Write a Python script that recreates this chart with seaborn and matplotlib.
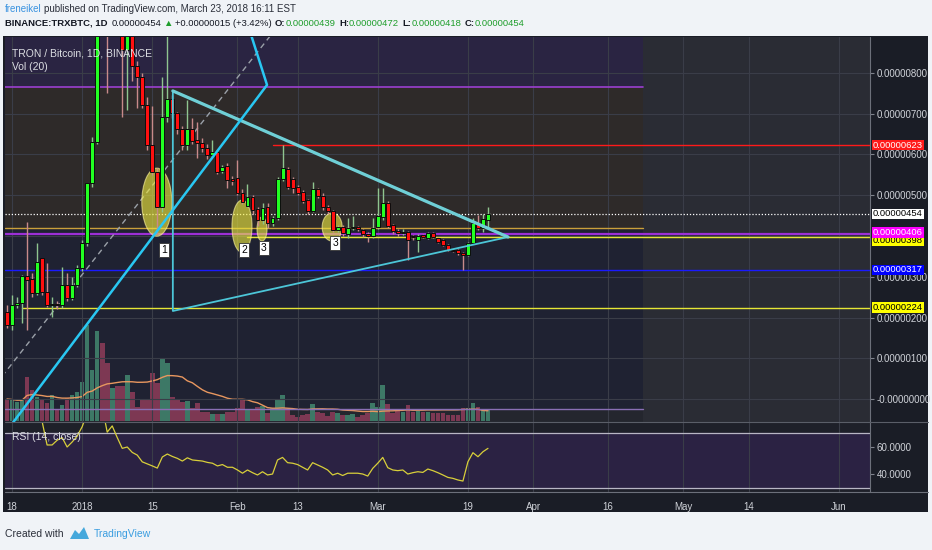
import numpy as np
import pandas as pd
import matplotlib
matplotlib.use("Agg")
import matplotlib.pyplot as plt
import seaborn as sns
from matplotlib.patches import Rectangle, Ellipse, Polygon
from matplotlib.transforms import blended_transform_factory

# ================================
# 1. Data  (prices in satoshi = 1e-8 BTC)
# ================================
opens = [214, 182, 231, 236, 302, 294, 259, 345, 263, 230, 233, 231, 280, 247, 280, 321, 382, 529, 631, 1400,
         1200, 1100, 1150, 1000, 856, 920, 817, 790, 721, 623, 557, 471, 692, 736, 702, 663, 623, 663, 636, 628,
         616, 599, 606, 560, 572, 540, 542, 506, 474, 496, 466, 439, 471, 432, 444, 540, 564, 540, 520, 508,
         488, 461, 515, 498, 471, 461, 415, 422, 405, 419, 422, 415, 405, 400, 422, 447, 481, 427, 412, 407,
         410, 399, 390, 402, 395, 407, 395, 390, 378, 366, 366, 358, 353, 383, 432, 420, 439]
highs = [230, 255, 251, 304, 435, 310, 382, 345, 333, 250, 240, 325, 308, 300, 330, 390, 531, 644, 1150, 1900,
         1300, 1250, 1200, 1050, 1000, 950, 830, 800, 740, 719, 567, 790, 906, 745, 705, 670, 734, 690, 680, 640,
         625, 636, 610, 575, 579, 548, 587, 515, 528, 500, 470, 480, 480, 450, 545, 623, 570, 545, 525, 512,
         492, 532, 518, 505, 476, 465, 426, 428, 445, 450, 425, 418, 410, 445, 518, 518, 485, 430, 418, 418,
         412, 402, 405, 406, 410, 410, 398, 392, 380, 368, 368, 360, 386, 445, 452, 455, 472]
lows = [175, 169, 223, 186, 169, 250, 255, 255, 227, 202, 222, 223, 240, 243, 275, 315, 375, 520, 625, 1000,
        751, 1000, 900, 692, 709, 780, 714, 715, 610, 550, 402, 460, 680, 690, 650, 610, 611, 625, 591, 605,
        590, 595, 553, 555, 518, 525, 500, 478, 470, 455, 425, 430, 420, 425, 440, 535, 515, 505, 500, 482,
        455, 458, 494, 465, 455, 410, 410, 400, 395, 415, 412, 398, 385, 396, 418, 440, 420, 405, 400, 402,
        341, 390, 361, 394, 392, 395, 382, 375, 362, 360, 354, 317, 350, 380, 415, 410, 418]
closes = [182, 231, 236, 302, 292, 259, 337, 263, 231, 233, 230, 280, 247, 280, 321, 382, 529, 631, 1100, 1200,
          1100, 1150, 1000, 856, 920, 817, 790, 721, 623, 557, 471, 692, 736, 702, 663, 623, 663, 632, 628, 616,
          599, 606, 557, 569, 537, 536, 506, 484, 496, 464, 439, 469, 432, 444, 540, 567, 520, 517, 505, 486,
          461, 515, 498, 471, 461, 415, 422, 407, 420, 421, 417, 405, 400, 420, 449, 481, 425, 412, 407, 410,
          390, 397, 400, 398, 407, 398, 385, 378, 366, 364, 358, 353, 383, 432, 420, 442, 454]
volume = [65, 62, 57, 62, 132, 92, 70, 62, 52, 76, 34, 47, 67, 77, 87, 117, 287, 152, 270, 232,
          172, 97, 105, 105, 137, 87, 40, 64, 64, 142, 112, 187, 172, 72, 62, 57, 59, 37, 52, 27,
          25, 20, 20, 20, 27, 27, 37, 62, 34, 34, 42, 44, 24, 37, 62, 77, 37, 17, 12, 17,
          20, 50, 27, 24, 14, 27, 22, 17, 17, 20, 12, 17, 22, 52, 42, 107, 50, 24, 30, 27,
          47, 27, 30, 27, 27, 24, 24, 22, 17, 17, 17, 37, 37, 54, 40, 34, 34]
rsi = [85, 85, 85, 84, 83, 82, 85, 79, 61.5, 61.5, 65, 67, 60, 63.7, 68, 75, 85, 88, 92, 90,
       71, 75.6, 67, 59, 60, 56, 54, 49, 47.5, 46, 44.4, 52.6, 54.8, 53, 51.6, 49.6, 52, 50.4, 50, 49.6,
       48.6, 48, 46, 47, 45, 45, 43, 40.6, 43, 41, 39.3, 41.7, 39.3, 40, 50.4, 52.3, 48.4, 48, 47, 45,
       43, 48.4, 46.7, 45, 43, 39.3, 40.6, 38.9, 40.6, 40.6, 40.6, 40, 38.5, 44.2, 48, 52.3, 44.7, 43, 42.5, 43,
       40, 41, 41.7, 41.2, 43.7, 42.5, 41, 39.3, 37.5, 36.8, 35.6, 34.8, 49.1, 55.8, 52.8, 56.5, 59]

start = pd.Timestamp("2017-12-17")
tick_dates = ["2017-12-18", "2018-01-01", "2018-01-15", "2018-02-01", "2018-02-13", "2018-03-01",
              "2018-03-19", "2018-04-01", "2018-04-16", "2018-05-01", "2018-05-14", "2018-06-01"]
tick_labels = ["18", "2018", "15", "Feb", "13", "Mar", "19", "Apr", "16", "May", "14", "Jun"]

# price tags on the right scale: (price, where the tag sits, box colour, text colour)
level_tags = [(623, 623, "#ff1a1a", "white"), (454, 454, "white", "black"),
              (398, 389, "#ffff00", "black"), (406, 409, "#ff00ff", "white"),
              (317, 317, "#0000ff", "white"), (224, 224, "#ffff00", "black")]

df = pd.DataFrame({"open": opens, "high": highs, "low": lows, "close": closes,
                   "volume": volume, "rsi": rsi})
df["day"] = np.arange(len(df))
df["vol_ma"] = df["volume"].rolling(20, min_periods=1).mean()
up = (df["close"] >= df["open"]).to_numpy()

tick_pos = [(pd.Timestamp(d) - start).days for d in tick_dates]
def day_of(s):
    return (pd.Timestamp(s) - start).days

# ================================
# 2. Figure layout (pixel based)
# ================================
W, H = 932, 550
sns.set_style("dark")
plt.rcParams["font.family"] = ["Liberation Sans", "DejaVu Sans"]

fig = plt.figure(figsize=(W / 100, H / 100), dpi=100)
fig.patch.set_facecolor("#f0f3f7")

def box(x0, y0, x1, y1):
    return [x0 / W, 1 - y1 / H, (x1 - x0) / W, (y1 - y0) / H]

fig.add_artist(Rectangle((3 / W, 1 - 512 / H), 925 / W, 476 / H, transform=fig.transFigure,
                         fc="#1a1d26", ec="none", zorder=0))

ax = fig.add_axes(box(5, 37, 870, 422))
axv = ax.twinx()
axr = fig.add_axes(box(5, 422, 870, 492), sharex=ax)

XL = (-0.4, 172.25)
ax.set_xlim(*XL)
ax.set_ylim(-56.4, 888.3)
axv.set_ylim(-4, 1151)
axr.set_ylim(26.7, 78.5)

axr.set_facecolor("#1e2029")
for a in (ax, axv, axr):
    for s in a.spines.values():
        s.set_visible(False)
axv.set_yticks([])
ax.set_zorder(axv.get_zorder() + 1)
ax.patch.set_visible(False)

# background zones (drawn rectangles)
cut = day_of("2018-04-23")
axv.add_patch(Rectangle((cut, -60), XL[1] - cut, 960, transform=ax.transData,
                        fc="#2a2c34", ec="none", zorder=0))
axv.add_patch(Rectangle((XL[0], -60), cut - XL[0], 40, transform=ax.transData,
                        fc="#24262e", ec="none", zorder=0))
axv.add_patch(Rectangle((XL[0], 765), cut - XL[0], 200, transform=ax.transData,
                        fc="#2a2442", ec="none", zorder=0))
axv.add_patch(Rectangle((XL[0], 420), cut - XL[0], 345, transform=ax.transData,
                        fc="#2e2a29", ec="none", zorder=0))
axv.add_patch(Rectangle((XL[0], -24.5), cut - XL[0], 444.5, transform=ax.transData,
                        fc="#1f2232", ec="none", zorder=0))

# grid
for t in tick_pos:
    ax.axvline(t, color="#3a3d48", lw=0.8, zorder=0.5)
    axr.axvline(t, color="#3a3d48", lw=0.8, zorder=0.5)
for p in range(0, 900, 100):
    ax.axhline(p, color="#3a3d48", lw=0.8, zorder=0.5)

# ================================
# 3. Volume + MA
# ================================
vcol = np.where(up, "#3d7866", "#7d3853")
axv.bar(df["day"], df["volume"], width=0.92, color=vcol, edgecolor="none", lw=0, zorder=1)
sns.lineplot(x=df["day"], y=df["vol_ma"], ax=axv, color="#e8975f", lw=1.0, zorder=2)
axv.set_xlabel("")
axv.set_ylabel("")

# ================================
# 4. Drawings under candles
# ================================
ax.plot([XL[0], cut], [765, 765], color="#9b3fd0", lw=1.2, zorder=2)
ax.plot([XL[0], cut], [420, 420], color="#caa03a", lw=1.0, zorder=2)
ax.plot([XL[0], cut], [-24.5, -24.5], color="#8a6fb5", lw=1.0, zorder=2)
ax.plot([53, XL[1]], [623, 623], color="#ff1a1a", lw=1.0, zorder=2)
ax.plot([XL[0], XL[1]], [406, 406], color="#9c2fd6", lw=1.6, zorder=2)
ax.plot([48, XL[1]], [398, 398], color="#e6e635", lw=1.0, zorder=2)
ax.plot([XL[0], XL[1]], [317, 317], color="#1a1aff", lw=1.0, zorder=2)
ax.plot([3, XL[1]], [224, 224], color="#e6e635", lw=1.0, zorder=2)
ax.plot([XL[0], XL[1]], [454, 454], color="white", lw=0.9, ls=(0, (1, 1.5)), zorder=2)

# dashed trend line
ax.plot([-1, 56], [55.6, 945], color="#9aa0a8", lw=1.0, ls=(0, (4, 3)), zorder=2)

# ellipses
for cx, cy, w, h in [(29.9, 483, 6.0, 167), (46.9, 424, 4.0, 128), (50.9, 417, 2.0, 59), (64.9, 422, 4.0, 69)]:
    ax.add_patch(Ellipse((cx, cy), w, h, fc="#eeea40", ec="#fff7a0", lw=0.8, alpha=0.62, zorder=2.5))

# ================================
# 5. Candles
# ================================
wick_col = np.where(up, "#8fc58f", "#c88a8a")
ax.vlines(df["day"], df["low"], df["high"], colors=wick_col, lw=1.0, zorder=3)
body_lo = np.minimum(df["open"], df["close"])
body_h = np.maximum(np.abs(df["close"] - df["open"]), 2.5)
ax.bar(df["day"], body_h, bottom=body_lo, width=0.78, color=np.where(up, "#22ff22", "#ff1010"),
       edgecolor="#0d0d0d", lw=0.7, zorder=4)

# triangle + channel lines
apex = day_of("2018-03-27")
ax.plot([33.1, 33.1, apex, 33.1], [756, 216, 397.5, 756], color="#4cc6d8", lw=1.3, zorder=5)
ax.plot([33.1, apex], [756, 397.5], color="#6fcfd6", lw=2.3, zorder=5)
ax.plot([1, 51.9, 46.5], [-61, 770.6, 979], color="#29c7f2", lw=1.8, zorder=5)

for tx, ty, s in [(31.3, 366, "1"), (47.3, 366, "2"), (51.3, 371, "3"), (65.5, 383, "3")]:
    ax.text(tx, ty, s, ha="center", va="center", fontsize=7.5, color="black", zorder=6,
            bbox=dict(boxstyle="square,pad=0.18", fc="white", ec="#333333", lw=0.6))

# ================================
# 6. RSI pane
# ================================
axr.axhspan(30, 70, color="#2b2243", zorder=0.2)
axr.axhline(70, color="#b8b6c4", lw=0.9, zorder=1)
axr.axhline(30, color="#b8b6c4", lw=0.9, zorder=1)
sns.lineplot(x=df["day"], y=df["rsi"], ax=axr, color="#d8cf3a", lw=0.9, zorder=3)
axr.set_xlabel("")
axr.set_ylabel("")

# ================================
# 7. Axes labels
# ================================
price_ticks = [0, 100, 200, 300, 500, 600, 700, 800]
ax.yaxis.tick_right()
ax.set_yticks(price_ticks)
ax.set_yticklabels(["-0.00000000" if p == 0 else f"{p / 1e8:.8f}" for p in price_ticks],
                   color="#cfd2d8", fontsize=7)
ax.tick_params(axis="x", length=0, labelbottom=False)
ax.tick_params(axis="y", length=3, color="#80848e", pad=2)
axr.yaxis.tick_right()
axr.set_yticks([40, 60])
axr.set_yticklabels(["40.0000", "60.0000"], color="#cfd2d8", fontsize=7)
axr.tick_params(axis="y", length=3, color="#80848e", pad=2)
axr.set_xticks(tick_pos)
axr.set_xticklabels(tick_labels, color="#cfd2d8", fontsize=7)
axr.tick_params(axis="x", length=0, pad=7)

tr = blended_transform_factory(ax.transAxes, ax.transData)
for k, (p, pos, fc, tc) in enumerate(level_tags):
    ax.text(1.0035, pos, f"{p / 1e8:.8f}", transform=tr, ha="left", va="center", fontsize=6.8,
            color=tc, zorder=10 + k, clip_on=False,
            bbox=dict(boxstyle="square,pad=0.08", fc=fc, ec="none"))

# pane separators
fig.add_artist(plt.Line2D([870 / W, 870 / W], [1 - 492 / H, 1 - 37 / H], color="#6c707a", lw=0.8))
fig.add_artist(plt.Line2D([5 / W, 928 / W], [1 - 492 / H, 1 - 492 / H], color="#6c707a", lw=0.8))
fig.add_artist(plt.Line2D([5 / W, 928 / W], [1 - 422 / H, 1 - 422 / H], color="#5a5e68", lw=0.8))

for yy, s in [(53, "TRON / Bitcoin, 1D, BINANCE"), (67, "Vol (20)"), (437, "RSI (14, close)")]:
    fig.text(12 / W, 1 - yy / H, s, color="#dcdee3", fontsize=7.5, va="center")

# ================================
# 8. Header / footer
# ================================
rend = fig.canvas.get_renderer()

def put_row(x, y, parts, size):
    for s, col, wt, gap in parts:
        t = fig.text(x / W, 1 - y / H, s, color=col, fontsize=size, fontweight=wt,
                     va="center", ha="left")
        x += t.get_window_extent(renderer=rend).width + gap

G = "#1f9e2c"
put_row(5, 9, [("freneikel", "#3a93e0", "normal", 2.5),
               ("published on TradingView.com, March 23, 2018 16:11 EST", "#2a2e39", "normal", 0)], 7)
put_row(5, 23, [("BINANCE:TRXBTC, 1D", "#131722", "bold", 4),
                ("0.00000454", "#131722", "normal", 2),
                ("▲", G, "normal", 2),
                ("+0.00000015 (+3.42%)", "#131722", "normal", 3.5),
                ("O:", "#131722", "bold", 0), ("0.00000439", G, "normal", 3.5),
                ("H:", "#131722", "bold", 0), ("0.00000472", G, "normal", 3.5),
                ("L:", "#131722", "bold", 0), ("0.00000418", G, "normal", 3.5),
                ("C:", "#131722", "bold", 0), ("0.00000454", G, "normal", 0)], 6.8)

fig.text(5 / W, 1 - 534 / H, "Created with", color="#2a2e39", fontsize=7.5, va="center")
fig.add_artist(Polygon([(70 / W, 1 - 539 / H), (75 / W, 1 - 530 / H), (79 / W, 1 - 534 / H),
                        (84 / W, 1 - 527 / H), (89 / W, 1 - 539 / H)],
                       closed=True, transform=fig.transFigure, fc="#45a8dc", ec="none"))
fig.text(94 / W, 1 - 534 / H, "TradingView", color="#3a9de0", fontsize=7.5, va="center")

fig.savefig("out.png", dpi=100, facecolor=fig.get_facecolor())
